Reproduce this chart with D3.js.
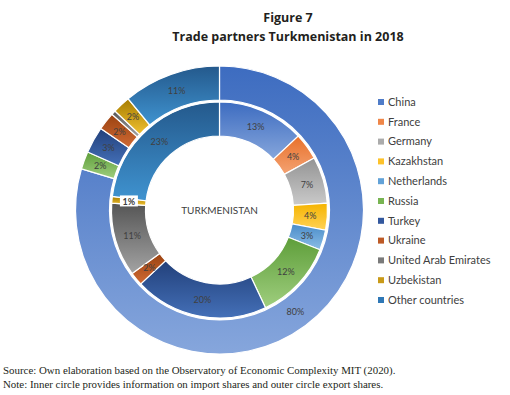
<!DOCTYPE html>
<html>
<head>
<meta charset="utf-8">
<script src="https://cdn.jsdelivr.net/npm/d3@7"></script>
<style>
  body { margin: 0; background: #fff; }
  svg { display: block; }
</style>
</head>
<body>
<div id="chart"></div>
<script>
// partner countries, legend order
const countries = ['China', 'France', 'Germany', 'Kazakhstan', 'Netherlands', 'Russia',
    'Turkey', 'Ukraine', 'United Arab Emirates', 'Uzbekistan', 'Other countries'];
// inner ring: import shares (%)
const importShares = [13, 4, 7, 4, 3, 12, 20, 2, 11, 1, 23];
// outer ring: export shares (%)
const exportShares = [80, 0, 0, 0, 0, 2, 3, 2, 0.5, 2, 11];
// printed labels (empty = none)
const importLabels = ['13%', '4%', '7%', '4%', '3%', '12%', '20%', '2%', '11%', '1%', '23%'];
const exportLabels = ['80%', '', '', '', '', '2%', '3%', '2%', '', '2%', '11%'];
// gradient colours, top -> bottom
const colorTop = ['#3d6cc0', '#e8702a', '#939393', '#f5b400', '#4a8cc9', '#5e9e3a',
    '#22407a', '#9a4210', '#555555', '#a67c00', '#24598c'];
const colorBottom = ['#86a6dc', '#f4a373', '#cacaca', '#ffd257', '#8bbde6', '#9fce7e',
    '#4470b8', '#d06a34', '#a3a3a3', '#f0c030', '#3f93d0'];
const swatch = ['#4f7cc8', '#ef8648', '#ababab', '#fdc22a', '#62a2d8', '#78b452',
    '#33589e', '#bd5a26', '#7a7a7a', '#c99a18', '#2f78b6'];

const width = 510, height = 395;
const cx = 219.5, cy = 210;

const svg = d3.select('#chart').append('svg')
    .attr('width', width)
    .attr('height', height);

// gradients
const defs = svg.append('defs');
countries.forEach((c, i) => {
    const g = defs.append('linearGradient')
        .attr('id', 'grad' + i)
        .attr('x1', 0).attr('y1', 0).attr('x2', 0).attr('y2', 1);
    g.append('stop').attr('offset', '0%').attr('stop-color', colorTop[i]);
    g.append('stop').attr('offset', '100%').attr('stop-color', colorBottom[i]);
});

// titles
svg.append('text')
    .attr('x', 288).attr('y', 22)
    .attr('text-anchor', 'middle')
    .style('font-family', '"Open Sans", sans-serif')
    .style('font-weight', 'bold')
    .style('font-size', '12.5px')
    .style('fill', '#231f20')
    .text('Figure 7');
svg.append('text')
    .attr('x', 288).attr('y', 41)
    .attr('text-anchor', 'middle')
    .style('font-family', '"Open Sans", sans-serif')
    .style('font-weight', 'bold')
    .style('font-size', '12.5px')
    .style('fill', '#231f20')
    .text('Trade partners Turkmenistan in 2018');

const chart = svg.append('g')
    .attr('transform', `translate(${cx}, ${cy})`);

const pie = d3.pie().sort(null).value(d => d.value);

function drawRing(values, labels, r0, r1, cls) {
    const data = pie(values.map((v, i) => ({ value: v, i, label: labels[i] })))
        .filter(d => d.data.value > 0);
    const arc = d3.arc().innerRadius(r0).outerRadius(r1);
    const labelArc = d3.arc().innerRadius((r0 + r1) / 2).outerRadius((r0 + r1) / 2);

    chart.selectAll('path.' + cls)
        .data(data)
        .join('path')
        .classed(cls, true)
        .attr('d', arc)
        .attr('fill', d => `url(#grad${d.data.i})`)
        .attr('stroke', '#fff')
        .attr('stroke-width', 1.2);

    const lab = chart.selectAll('g.' + cls + '-lab')
        .data(data.filter(d => d.data.label))
        .join('g')
        .attr('class', cls + '-lab')
        .attr('transform', d => `translate(${labelArc.centroid(d)})`);

    // the tiny 1% slice gets a white box, as in the original
    lab.filter(d => d.data.label === '1%')
        .append('rect')
        .attr('x', -9).attr('y', -6).attr('width', 18).attr('height', 11)
        .attr('fill', '#fff');

    lab.append('text')
        .attr('text-anchor', 'middle')
        .attr('dy', '0.35em')
        .style('font-family', 'Lato, "Open Sans", sans-serif')
        .style('font-size', '9px')
        .style('font-weight', d => d.data.label === '1%' ? 'bold' : 'normal')
        .style('fill', '#404040')
        .text(d => d.data.label);
}

drawRing(exportShares, exportLabels, 110, 144, 'outer');
drawRing(importShares, importLabels, 74, 108, 'inner');

chart.append('text')
    .attr('text-anchor', 'middle')
    .attr('dy', '0.35em')
    .style('font-family', 'Lato, "Open Sans", sans-serif')
    .style('font-size', '10px')
    .style('fill', '#404040')
    .text('TURKMENISTAN');

// legend
const legend = svg.append('g')
    .attr('transform', 'translate(378, 102)');
const item = legend.selectAll('g')
    .data(countries)
    .join('g')
    .attr('transform', (d, i) => `translate(0, ${i * 19.8})`);
item.append('rect')
    .attr('x', 0).attr('y', -3).attr('width', 6).attr('height', 6)
    .attr('fill', (d, i) => swatch[i]);
item.append('text')
    .attr('x', 10)
    .attr('dy', '0.35em')
    .style('font-family', 'Lato, "Open Sans", sans-serif')
    .style('font-size', '11px')
    .style('fill', '#404040')
    .text(d => d);

// footnotes
const notes = [
    'Source: Own elaboration based on the Observatory of Economic Complexity MIT (2020).',
    'Note: Inner circle provides information on import shares and outer circle export shares.'
];
svg.selectAll('text.note')
    .data(notes)
    .join('text')
    .attr('class', 'note')
    .attr('x', 3)
    .attr('y', (d, i) => 374 + i * 14)
    .style('font-family', '"Liberation Serif", serif')
    .style('font-size', '10.9px')
    .style('fill', '#231f20')
    .text(d => d);
</script>
</body>
</html>
